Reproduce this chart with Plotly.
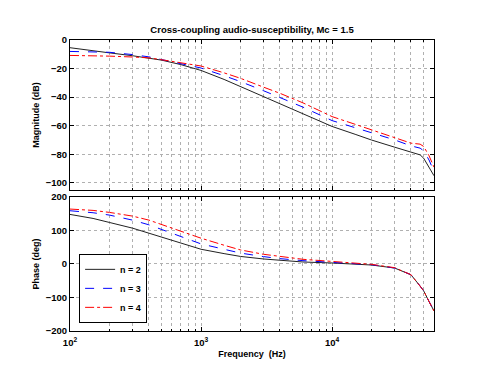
import plotly.graph_objects as go
from plotly.subplots import make_subplots

freq = [100, 150, 200, 300, 400, 500, 700, 1000, 1500, 2000, 3000, 4000, 6000,
        10000, 15000, 20000, 30000, 40000, 47000, 50000, 55000, 60000]

mag_n2 = [-5.4, -7.2, -9.0, -11.0, -12.5, -14.1, -17.2, -21.3, -27.6, -32.6, -39.6, -44.3, -51.3,
          -60.5, -66.0, -70.0, -75.0, -78.5, -80.4, -82.7, -89.7, -95.0]
mag_n3 = [-8.0, -8.3, -8.6, -10.2, -11.8, -13.7, -16.5, -19.6, -25.0, -29.1, -35.5, -40.1, -47.0,
          -56.4, -61.5, -65.2, -69.9, -74.1, -75.7, -77.5, -84.0, -92.0]
mag_n4 = [-10.8, -11.0, -11.3, -11.9, -12.5, -13.8, -16.0, -18.2, -23.0, -26.8, -33.0, -37.3, -44.0,
          -53.6, -59.0, -62.9, -68.0, -72.2, -72.9, -74.5, -81.0, -89.0]

ph_n2 = [148, 136, 124, 107, 92, 80, 63, 44, 31, 22.6, 15, 11, 6,
         3, 0, -3, -12, -32, -66, -80, -112, -140]
ph_n3 = [159, 153, 146, 131, 117, 103, 82, 60, 44, 32.6, 22, 16, 10,
         5, 1, -2, -12, -32, -66, -80, -112, -140]
ph_n4 = [164, 160, 154, 143, 131, 118, 98, 77, 56, 42, 29, 22.6, 14,
         7.7, 3, -1, -11, -32, -66, -80, -112, -140]

labels = ["n = 2", "n = 3", "n = 4"]
colors = ["#222222", "blue", "red"]
dashes = ["solid", "dash", "dashdot"]

title = "Cross-coupling audio-susceptibility, Mc = 1.5"
major_x = [100, 1000, 10000]
major_x_text = ["10<sup>2</sup>", "10<sup>3</sup>", "10<sup>4</sup>"]
minor_x = [m * d for d in (100, 1000, 10000) for m in range(2, 10) if m * d <= 60000]

font = "Liberation Sans, Arial, sans-serif"
lab_font = dict(family=font, size=9, color="black", weight="bold")

fig = make_subplots(rows=2, cols=1, shared_xaxes=True, vertical_spacing=0.024,
                    row_heights=[0.5155, 0.4605])

for i, (mag, ph) in enumerate([(mag_n2, ph_n2), (mag_n3, ph_n3), (mag_n4, ph_n4)]):
    line = dict(color=colors[i], width=1, dash=dashes[i])
    fig.add_trace(go.Scatter(x=freq, y=mag, mode="lines", line=line, name=labels[i],
                             showlegend=False), row=1, col=1)
    fig.add_trace(go.Scatter(x=freq, y=ph, mode="lines", line=line, name=labels[i]),
                  row=2, col=1)

grid = dict(showgrid=True, gridcolor="#b0b0b0", griddash="dot", gridwidth=1)
axis = dict(showline=True, linecolor="black", linewidth=1, mirror="ticks",
            ticks="inside", ticklen=4, tickcolor="black", zeroline=False,
            tickfont=dict(family=font, size=9.5, color="black", weight="bold"), **grid)

xaxis = dict(axis, type="log", range=[2, 4.7782], tickvals=major_x, ticktext=major_x_text,
             ticklabelstandoff=3,
             minor=dict(tickvals=minor_x, ticks="inside", ticklen=2, tickcolor="black", **grid))
fig.update_xaxes(**xaxis)
fig.update_xaxes(showticklabels=False, row=1, col=1)
fig.update_xaxes(title=dict(text="Frequency  (Hz)", standoff=3, font=lab_font), row=2, col=1)

fig.update_yaxes(**axis)
fig.update_yaxes(range=[-105, 0], tickvals=[-100, -80, -60, -40, -20, 0],
                 title=dict(text="Magnitude (dB)", standoff=4, font=lab_font),
                 row=1, col=1)
fig.update_yaxes(range=[-200, 200], tickvals=[-200, -100, 0, 100, 200],
                 title=dict(text="Phase (deg)", standoff=4, font=lab_font),
                 row=2, col=1)

# the page body keeps its default 8 px margin, so the figure is 8 px smaller
fig.update_layout(
    width=472, height=364,
    margin=dict(l=62, r=46, t=32, b=41),
    plot_bgcolor="white", paper_bgcolor="white",
    title=dict(text=title, x=0.517, xanchor="center", y=0.94, yanchor="middle",
               font=dict(family=font, size=9.5, color="black", weight="bold")),
    legend=dict(x=0.025, y=0.028, xanchor="left", yanchor="bottom",
                bordercolor="black", borderwidth=1, bgcolor="white",
                font=lab_font, tracegroupgap=0, itemwidth=30),
)

fig.write_html("out.html")
